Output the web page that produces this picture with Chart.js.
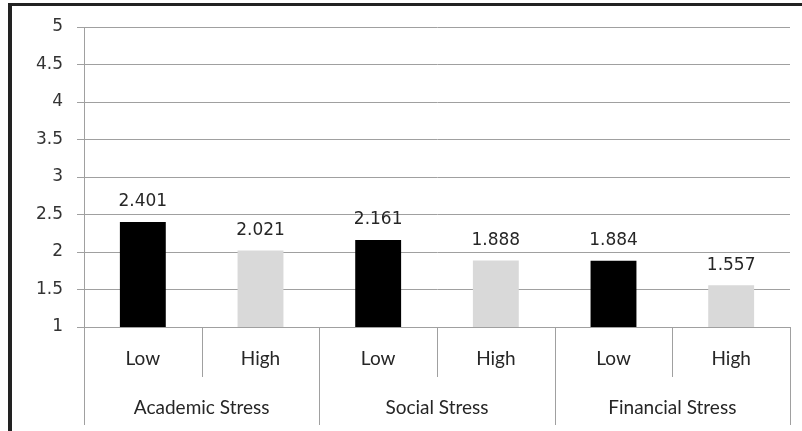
<!DOCTYPE html>
<html>
<head>
<meta charset="utf-8">
<script src="https://cdn.jsdelivr.net/npm/chart.js@4.4.0/dist/chart.umd.min.js"></script>
<style>
  html, body { margin: 0; padding: 0; background: #fff; overflow: hidden; }
  #wrap { position: relative; width: 802px; height: 431px; }
  #frame { position: absolute; left: 8px; top: 3px; width: 900px; height: 500px;
           border-top: 3px solid #222; border-left: 4px solid #222; pointer-events: none; }
  canvas { position: absolute; left: 0; top: 0; }
</style>
</head>
<body>
<div id="wrap">
  <canvas id="stressChart" width="802" height="431"></canvas>
  <div id="frame"></div>
</div>
<script>
// chart data
const levels = ['Low', 'High', 'Low', 'High', 'Low', 'High'];
const groups = ['Academic Stress', 'Social Stress', 'Financial Stress'];
const means = [2.401, 2.021, 2.161, 1.888, 1.884, 1.557];
const levelColors = { Low: '#000000', High: '#d9d9d9' };

const catFont = '19px Lato';

// value labels above each bar
const valueLabels = {
    id: 'valueLabels',
    afterDatasetsDraw(chart) {
        const ctx = chart.ctx;
        const meta = chart.getDatasetMeta(0);
        ctx.save();
        ctx.font = '17px "DejaVu Sans"';
        ctx.fillStyle = '#262626';
        ctx.textAlign = 'center';
        ctx.textBaseline = 'middle';
        meta.data.forEach((bar, i) => {
            ctx.fillText(means[i].toFixed(3), bar.x, bar.y - 20);
        });
        ctx.restore();
    }
};

// two level category axis under the plot
const groupAxis = {
    id: 'groupAxis',
    afterDraw(chart) {
        const ctx = chart.ctx;
        const x = chart.scales.x;
        const bottom = chart.chartArea.bottom;
        const half = (x.getPixelForValue(1) - x.getPixelForValue(0)) / 2;
        ctx.save();
        ctx.strokeStyle = '#a0a0a0';
        ctx.lineWidth = 1;
        ctx.fillStyle = '#262626';
        ctx.font = catFont;
        ctx.textAlign = 'center';
        ctx.textBaseline = 'middle';
        levels.forEach((lab, i) => {
            const cx = x.getPixelForValue(i);
            ctx.fillText(lab, cx, bottom + 32);
            if (i % 2 === 1) {
                // separator inside a group
                const sx = Math.round(cx - half) + 0.5;
                ctx.beginPath();
                ctx.moveTo(sx, bottom);
                ctx.lineTo(sx, bottom + 50);
                ctx.stroke();
            }
        });
        groups.forEach((g, j) => {
            const left = x.getPixelForValue(j * 2) - half;
            const right = x.getPixelForValue(j * 2 + 1) + half;
            ctx.fillText(g, (left + right) / 2, bottom + 81);
            [left, right].forEach(px => {
                const sx = Math.round(px) + 0.5;
                ctx.beginPath();
                ctx.moveTo(sx, bottom);
                ctx.lineTo(sx, bottom + 98);
                ctx.stroke();
            });
        });
        ctx.restore();
    }
};

const ctx = document.getElementById('stressChart').getContext('2d');
const stressChart = new Chart(ctx, {
    type: 'bar',
    data: {
        labels: levels,
        datasets: [{
            label: 'Mean',
            data: means,
            backgroundColor: levels.map(l => levelColors[l]),
            borderWidth: 0,
            barPercentage: 0.39,
            categoryPercentage: 1
        }]
    },
    options: {
        responsive: false,
        animation: false,
        layout: {
            padding: { top: 27, right: 12, bottom: 104, left: 0 }
        },
        plugins: {
            legend: { display: false },
            tooltip: { enabled: false }
        },
        scales: {
            x: {
                display: false,
                offset: true
            },
            y: {
                min: 1,
                max: 5,
                afterFit(scale) { scale.width = 84; },
                grid: {
                    color: '#a0a0a0',
                    tickLength: 7
                },
                border: { color: '#a0a0a0' },
                ticks: {
                    stepSize: 0.5,
                    padding: 14,
                    color: '#333',
                    font: { family: 'DejaVu Sans', size: 17 },
                    callback: v => String(v)
                }
            }
        }
    },
    plugins: [valueLabels, groupAxis]
});
</script>
</body>
</html>
